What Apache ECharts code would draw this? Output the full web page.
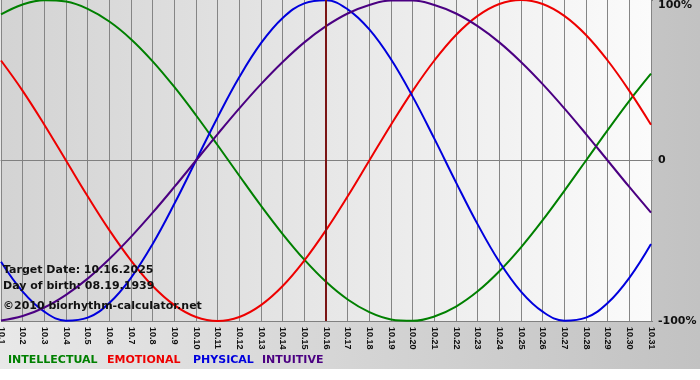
<!DOCTYPE html>
<html style="height: 100%">
<head>
<meta charset="utf-8">
</head>
<body style="height: 100%; margin: 0; background: #ffffff">
<div id="container" style="width: 700px; height: 369px;"></div>
<script type="text/javascript" src="https://cdn.jsdelivr.net/npm/echarts@6/dist/echarts.min.js"></script>
<script type="text/javascript">
// days of October 2025
var days = ['10.1','10.2','10.3','10.4','10.5','10.6','10.7','10.8','10.9','10.10',
            '10.11','10.12','10.13','10.14','10.15','10.16','10.17','10.18','10.19','10.20',
            '10.21','10.22','10.23','10.24','10.25','10.26','10.27','10.28','10.29','10.30','10.31'];
var seriesNames = ['INTELLECTUAL', 'EMOTIONAL', 'PHYSICAL', 'INTUITIVE'];
var seriesColors = ['#008000', '#ee0000', '#0000dd', '#4b0082'];

// values in percent
var intellectual = [91.0,97.2,99.9,99.0,94.5,86.6,75.6,61.8,45.8,28.2,9.5,-9.5,-28.2,-45.8,-61.8,-75.6,
                    -86.6,-94.5,-99.0,-99.9,-97.2,-91.0,-81.5,-69.0,-54.1,-37.2,-18.9,0,18.9,37.2,54.1];
var emotional = [62.3,43.4,22.3,0,-22.3,-43.4,-62.3,-78.2,-90.1,-97.5,-100,-97.5,-90.1,-78.2,-62.3,-43.4,
                 -22.3,0,22.3,43.4,62.3,78.2,90.1,97.5,100,97.5,90.1,78.2,62.3,43.4,22.3];
var physical = [-63.1,-81.7,-94.2,-99.8,-97.9,-88.8,-73.1,-52.0,-27.0,0,27.0,52.0,73.1,88.8,97.9,99.8,
                94.2,81.7,63.1,39.8,13.6,-13.6,-39.8,-63.1,-81.7,-94.2,-99.8,-97.9,-88.8,-73.1,-52.0];
var intuitive = [-99.7,-96.9,-91.6,-83.7,-73.6,-61.4,-47.6,-32.5,-16.5,0,16.5,32.5,47.6,61.4,73.6,83.7,
                 91.6,96.9,99.7,99.7,96.9,91.6,83.7,73.6,61.4,47.6,32.5,16.5,0,-16.5,-32.5];

var targetDay = '10.16';
var infoLines = ['Target Date: 10.16.2025', 'Day of birth: 08.19.1939', '\u00a92010 biorhythm-calculator.net'];

var dom = document.getElementById('container');
var myChart = echarts.init(dom);
var boldFont = 'DejaVu Sans';

var values = [intellectual, emotional, physical, intuitive];
var series = values.map(function (v, i) {
    return {
        name: seriesNames[i],
        type: 'line',
        data: v,
        smooth: 0.4,
        showSymbol: false,
        silent: true,
        lineStyle: { color: seriesColors[i], width: 2 },
        itemStyle: { color: seriesColors[i] },
        z: 3
    };
});
series[0].markLine = {
    symbol: ['none', 'none'],
    silent: true,
    animation: false,
    label: { show: false },
    lineStyle: { color: '#7a1414', width: 2, type: 'solid' },
    data: [{ xAxis: targetDay }]
};

var legendX = [8, 107, 193, 262];
var graphics = [];
seriesNames.forEach(function (n, i) {
    graphics.push({
        type: 'text', left: legendX[i], top: 355,
        style: { text: n, fill: seriesColors[i], font: 'bold 11px "DejaVu Sans"' }
    });
});
var infoTop = [265, 281, 301];
infoLines.forEach(function (t, i) {
    graphics.push({
        type: 'text', left: 3, top: infoTop[i], z: 10,
        style: { text: t, fill: '#111111', font: 'bold 11px "DejaVu Sans"' }
    });
});

option = {
    animation: false,
    backgroundColor: new echarts.graphic.LinearGradient(0, 0, 1, 0, [
        { offset: 0, color: '#e8e8e8' },
        { offset: 1, color: '#c2c2c2' }
    ]),
    grid: {
        left: 1, right: 49, top: 0, bottom: 48,
        outerBoundsMode: 'none',
        containLabel: false,
        show: true,
        borderWidth: 0,
        backgroundColor: new echarts.graphic.LinearGradient(0, 0, 1, 0, [
            { offset: 0, color: '#d3d3d3' },
            { offset: 1, color: '#fbfbfb' }
        ])
    },
    xAxis: {
        type: 'category',
        data: days,
        boundaryGap: false,
        axisLine: { lineStyle: { color: '#808080', width: 1 } },
        axisTick: { show: true, length: 3, lineStyle: { color: '#808080' } },
        axisLabel: {
            interval: 0, rotate: -90, margin: 6,
            fontSize: 9, fontWeight: 'bold', fontFamily: 'Liberation Sans', color: '#111111'
        },
        splitLine: { show: true, lineStyle: { color: '#858585', width: 1 } }
    },
    yAxis: {
        type: 'value',
        position: 'right',
        min: -100, max: 100, interval: 100,
        axisLine: { show: false },
        axisTick: { show: true, length: 2, lineStyle: { color: '#808080' } },
        axisLabel: {
            margin: 7, align: 'left',
            fontSize: 11, fontWeight: 'bold', fontFamily: boldFont, color: '#111111',
            verticalAlignMaxLabel: 'top',
            formatter: function (v) { return v === 0 ? '0' : v + '%'; }
        },
        splitLine: { show: true, lineStyle: { color: ['#808080', '#808080', 'transparent'], width: 1 } }
    },
    graphic: graphics,
    series: series
};

if (option && typeof option === 'object') {
    myChart.setOption(option, true);
}
</script>
</body>
</html>
